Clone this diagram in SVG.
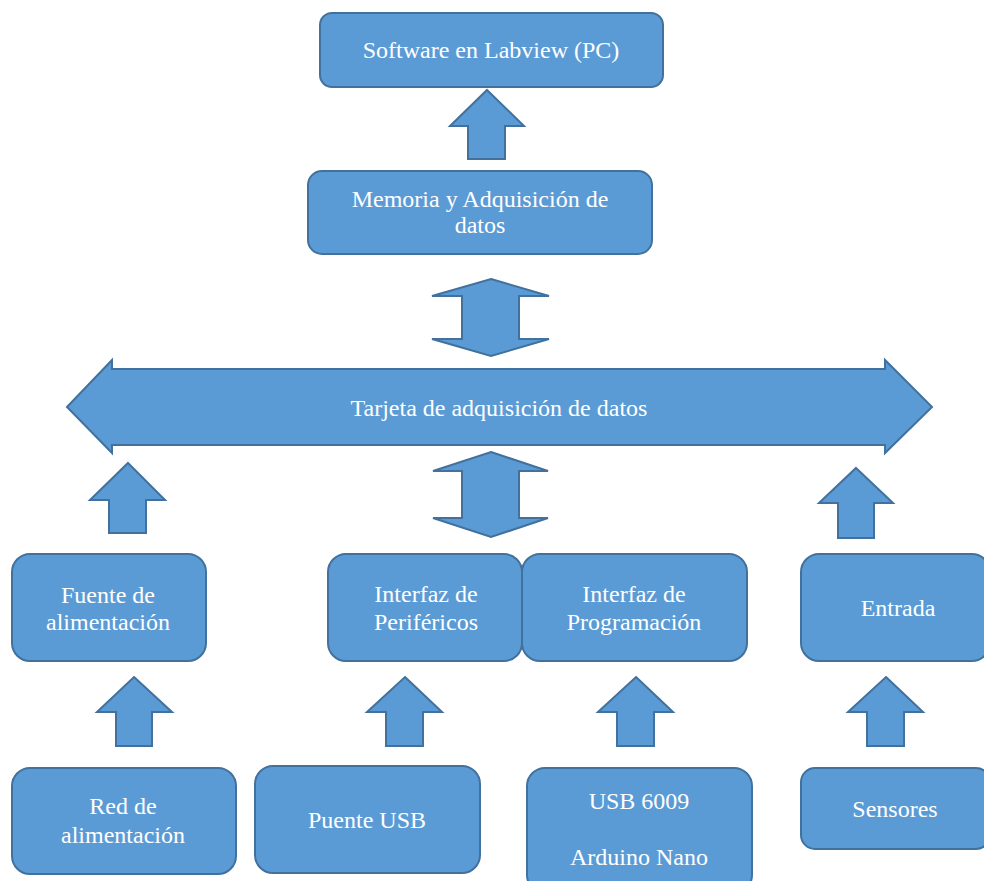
<svg xmlns="http://www.w3.org/2000/svg" width="984" height="881" viewBox="0 0 984 881">
  <style>
    .box { fill: #5B9BD5; stroke: #41719C; stroke-width: 2; }
    .arrow { fill: #5B9BD5; stroke: #41719C; stroke-width: 2; stroke-linejoin: miter; }
    .label { fill: #FFFFFF; font-family: "Liberation Serif", "Times New Roman", serif; font-size: 24px; text-anchor: middle; }
  </style>
  <rect width="984" height="881" fill="#FFFFFF"/>

  <!-- connectors: block arrows -->
  <g id="connectors">
    <!-- Memoria -> Software -->
    <polygon class="arrow" points="487,90 524,126 505,126 505,159 468,159 468,126 450,126"/>
    <!-- Memoria <-> Tarjeta -->
    <polygon class="arrow" points="491,279 549,296 519,296 519,339 549,339 491,356 432,339 462,339 462,296 432,296"/>
    <!-- Tarjeta <-> Interfaces -->
    <polygon class="arrow" points="491,452 548,471 519,471 519,518 548,518 491,537 433,518 462,518 462,471 433,471"/>
    <!-- Fuente -> Tarjeta -->
    <polygon class="arrow" points="128,463 165,500 146,500 146,533 109,533 109,500 90,500"/>
    <!-- Entrada -> Tarjeta -->
    <polygon class="arrow" points="856,468 893,503 874,503 874,538 838,538 838,503 819,503"/>
    <!-- Red -> Fuente -->
    <polygon class="arrow" points="134,677 172,712 152,712 152,746 116,746 116,712 97,712"/>
    <!-- Puente USB -> Interfaz de Periféricos -->
    <polygon class="arrow" points="405,677 442,712 423,712 423,746 386,746 386,712 367,712"/>
    <!-- USB 6009 / Arduino -> Interfaz de Programación -->
    <polygon class="arrow" points="636,677 673,712 654,712 654,746 617,746 617,712 598,712"/>
    <!-- Sensores -> Entrada -->
    <polygon class="arrow" points="886,677 923,712 904,712 904,746 867,746 867,712 848,712"/>
  </g>

  <g id="software">
    <rect class="box" x="320" y="13" width="343" height="74" rx="12" ry="12"/>
    <text class="label" x="491" y="58">Software en Labview (PC)</text>
  </g>

  <g id="memoria">
    <rect class="box" x="308" y="171" width="344" height="83" rx="14" ry="14"/>
    <text class="label" x="480" y="207">Memoria y Adquisición de</text>
    <text class="label" x="480" y="233">datos</text>
  </g>

  <g id="tarjeta">
    <polygon class="box" points="67,407 112,360 112,369 885,369 885,360 932,407 885,453 885,445 112,445 112,453"/>
    <text class="label" x="499" y="416">Tarjeta de adquisición de datos</text>
  </g>

  <g id="fuente">
    <rect class="box" x="12" y="554" width="194" height="107" rx="18" ry="18"/>
    <text class="label" x="108" y="603">Fuente de</text>
    <text class="label" x="108" y="630">alimentación</text>
  </g>

  <g id="perifericos">
    <rect class="box" x="328" y="554" width="194" height="107" rx="18" ry="18"/>
    <text class="label" x="426" y="602">Interfaz de</text>
    <text class="label" x="426" y="630">Periféricos</text>
  </g>

  <g id="programacion">
    <rect class="box" x="522" y="554" width="225" height="107" rx="18" ry="18"/>
    <text class="label" x="634" y="602">Interfaz de</text>
    <text class="label" x="634" y="630">Programación</text>
  </g>

  <g id="entrada">
    <rect class="box" x="801" y="554" width="189" height="107" rx="18" ry="18"/>
    <text class="label" x="898" y="616">Entrada</text>
  </g>

  <g id="red">
    <rect class="box" x="12" y="768" width="224" height="106" rx="18" ry="18"/>
    <text class="label" x="123" y="814">Red de</text>
    <text class="label" x="123" y="843">alimentación</text>
  </g>

  <g id="puente">
    <rect class="box" x="255" y="766" width="225" height="107" rx="18" ry="18"/>
    <text class="label" x="367" y="828">Puente USB</text>
  </g>

  <g id="usb">
    <rect class="box" x="527" y="768" width="225" height="125" rx="18" ry="18"/>
    <text class="label" x="639" y="809">USB 6009</text>
    <text class="label" x="639" y="865">Arduino Nano</text>
  </g>

  <g id="sensores">
    <rect class="box" x="801" y="768" width="189" height="81" rx="14" ry="14"/>
    <text class="label" x="895" y="817">Sensores</text>
  </g>
</svg>
